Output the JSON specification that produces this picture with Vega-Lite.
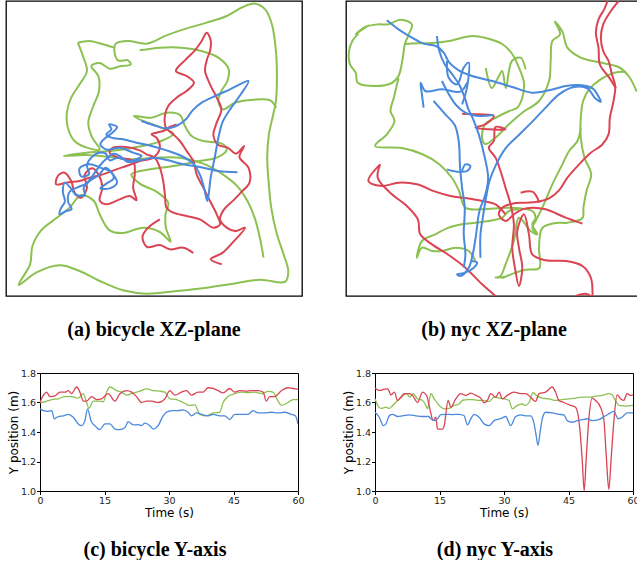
{
"$schema": "https://vega.github.io/schema/vega-lite/v6.json",
"padding": {"left": 5, "top": 0, "right": 0, "bottom": 0},
"background": "white",
"spacing": 27,
"config": {
 "view": {"stroke": "#000", "strokeWidth": 1},
 "axis": {"grid": false, "domainColor": "#000", "domainWidth": 1, "tickColor": "#000", "tickSize": 3.5, "tickWidth": 1, "labelFont": "DejaVu Sans", "labelFontSize": 9.5, "labelColor": "#222", "labelPadding": 1, "labelFlush": false, "titleFont": "DejaVu Sans", "titleFontSize": 12, "titleFontWeight": "normal", "titleColor": "#000", "titlePadding": 0},
 "axisX": {"titlePadding": 2},
 "title": {"font": "Liberation Serif", "fontSize": 20, "fontWeight": "bold", "color": "#000", "orient": "bottom", "offset": 22, "anchor": "middle"}
},
"datasets": {
"ty": [
{"scene":"bicycle","trace":"user B","t":0,"y":1.60},{"scene":"bicycle","trace":"user B","t":1.16,"y":1.605},{"scene":"bicycle","trace":"user B","t":2.71,"y":1.62},{"scene":"bicycle","trace":"user B","t":4.26,"y":1.625},{"scene":"bicycle","trace":"user B","t":5.81,"y":1.64},{"scene":"bicycle","trace":"user B","t":7.35,"y":1.64},{"scene":"bicycle","trace":"user B","t":8.9,"y":1.63},{"scene":"bicycle","trace":"user B","t":10.06,"y":1.66},{"scene":"bicycle","trace":"user B","t":10.84,"y":1.60},{"scene":"bicycle","trace":"user B","t":11.38,"y":1.56},{"scene":"bicycle","trace":"user B","t":12.39,"y":1.61},{"scene":"bicycle","trace":"user B","t":13.55,"y":1.61},{"scene":"bicycle","trace":"user B","t":14.71,"y":1.605},{"scene":"bicycle","trace":"user B","t":15.48,"y":1.67},{"scene":"bicycle","trace":"user B","t":16.26,"y":1.705},{"scene":"bicycle","trace":"user B","t":17.81,"y":1.68},{"scene":"bicycle","trace":"user B","t":18.97,"y":1.67},{"scene":"bicycle","trace":"user B","t":20.13,"y":1.65},{"scene":"bicycle","trace":"user B","t":21.68,"y":1.664},{"scene":"bicycle","trace":"user B","t":23.23,"y":1.677},{"scene":"bicycle","trace":"user B","t":24.77,"y":1.693},{"scene":"bicycle","trace":"user B","t":26.32,"y":1.68},{"scene":"bicycle","trace":"user B","t":27.87,"y":1.677},{"scene":"bicycle","trace":"user B","t":29.03,"y":1.67},{"scene":"bicycle","trace":"user B","t":30.19,"y":1.625},{"scene":"bicycle","trace":"user B","t":31.74,"y":1.62},{"scene":"bicycle","trace":"user B","t":33.29,"y":1.60},{"scene":"bicycle","trace":"user B","t":34.84,"y":1.58},{"scene":"bicycle","trace":"user B","t":36.0,"y":1.584},{"scene":"bicycle","trace":"user B","t":37.16,"y":1.52},{"scene":"bicycle","trace":"user B","t":38.71,"y":1.51},{"scene":"bicycle","trace":"user B","t":40.26,"y":1.53},{"scene":"bicycle","trace":"user B","t":41.81,"y":1.534},{"scene":"bicycle","trace":"user B","t":42.58,"y":1.60},{"scene":"bicycle","trace":"user B","t":43.74,"y":1.64},{"scene":"bicycle","trace":"user B","t":45.29,"y":1.66},{"scene":"bicycle","trace":"user B","t":46.84,"y":1.67},{"scene":"bicycle","trace":"user B","t":48.39,"y":1.666},{"scene":"bicycle","trace":"user B","t":49.94,"y":1.67},{"scene":"bicycle","trace":"user B","t":51.48,"y":1.66},{"scene":"bicycle","trace":"user B","t":53.03,"y":1.675},{"scene":"bicycle","trace":"user B","t":54.19,"y":1.67},{"scene":"bicycle","trace":"user B","t":55.36,"y":1.61},{"scene":"bicycle","trace":"user B","t":56.13,"y":1.58},{"scene":"bicycle","trace":"user B","t":57.68,"y":1.60},{"scene":"bicycle","trace":"user B","t":58.84,"y":1.62},{"scene":"bicycle","trace":"user B","t":60,"y":1.62},
{"scene":"bicycle","trace":"user A","t":0,"y":1.60},{"scene":"bicycle","trace":"user A","t":0.77,"y":1.648},{"scene":"bicycle","trace":"user A","t":1.55,"y":1.67},{"scene":"bicycle","trace":"user A","t":2.32,"y":1.64},{"scene":"bicycle","trace":"user A","t":3.48,"y":1.645},{"scene":"bicycle","trace":"user A","t":4.64,"y":1.67},{"scene":"bicycle","trace":"user A","t":5.81,"y":1.67},{"scene":"bicycle","trace":"user A","t":6.58,"y":1.68},{"scene":"bicycle","trace":"user A","t":7.35,"y":1.66},{"scene":"bicycle","trace":"user A","t":8.52,"y":1.705},{"scene":"bicycle","trace":"user A","t":9.29,"y":1.67},{"scene":"bicycle","trace":"user A","t":10.06,"y":1.61},{"scene":"bicycle","trace":"user A","t":10.84,"y":1.61},{"scene":"bicycle","trace":"user A","t":12.0,"y":1.64},{"scene":"bicycle","trace":"user A","t":13.16,"y":1.62},{"scene":"bicycle","trace":"user A","t":14.32,"y":1.625},{"scene":"bicycle","trace":"user A","t":15.87,"y":1.66},{"scene":"bicycle","trace":"user A","t":17.42,"y":1.61},{"scene":"bicycle","trace":"user A","t":18.58,"y":1.66},{"scene":"bicycle","trace":"user A","t":20.13,"y":1.68},{"scene":"bicycle","trace":"user A","t":21.29,"y":1.67},{"scene":"bicycle","trace":"user A","t":22.45,"y":1.64},{"scene":"bicycle","trace":"user A","t":23.61,"y":1.60},{"scene":"bicycle","trace":"user A","t":24.77,"y":1.61},{"scene":"bicycle","trace":"user A","t":25.94,"y":1.61},{"scene":"bicycle","trace":"user A","t":27.48,"y":1.60},{"scene":"bicycle","trace":"user A","t":29.03,"y":1.625},{"scene":"bicycle","trace":"user A","t":30.19,"y":1.68},{"scene":"bicycle","trace":"user A","t":31.35,"y":1.65},{"scene":"bicycle","trace":"user A","t":32.9,"y":1.67},{"scene":"bicycle","trace":"user A","t":34.06,"y":1.68},{"scene":"bicycle","trace":"user A","t":35.23,"y":1.65},{"scene":"bicycle","trace":"user A","t":36.77,"y":1.67},{"scene":"bicycle","trace":"user A","t":37.94,"y":1.67},{"scene":"bicycle","trace":"user A","t":39.1,"y":1.70},{"scene":"bicycle","trace":"user A","t":40.26,"y":1.695},{"scene":"bicycle","trace":"user A","t":41.42,"y":1.68},{"scene":"bicycle","trace":"user A","t":42.58,"y":1.665},{"scene":"bicycle","trace":"user A","t":44.13,"y":1.695},{"scene":"bicycle","trace":"user A","t":45.29,"y":1.67},{"scene":"bicycle","trace":"user A","t":46.45,"y":1.68},{"scene":"bicycle","trace":"user A","t":48.0,"y":1.677},{"scene":"bicycle","trace":"user A","t":49.16,"y":1.68},{"scene":"bicycle","trace":"user A","t":50.71,"y":1.68},{"scene":"bicycle","trace":"user A","t":51.87,"y":1.67},{"scene":"bicycle","trace":"user A","t":52.64,"y":1.61},{"scene":"bicycle","trace":"user A","t":53.42,"y":1.64},{"scene":"bicycle","trace":"user A","t":54.58,"y":1.64},{"scene":"bicycle","trace":"user A","t":56.13,"y":1.68},{"scene":"bicycle","trace":"user A","t":57.68,"y":1.70},{"scene":"bicycle","trace":"user A","t":58.84,"y":1.695},{"scene":"bicycle","trace":"user A","t":60,"y":1.69},
{"scene":"bicycle","trace":"user C","t":0,"y":1.557},{"scene":"bicycle","trace":"user C","t":0.77,"y":1.545},{"scene":"bicycle","trace":"user C","t":1.94,"y":1.54},{"scene":"bicycle","trace":"user C","t":2.71,"y":1.545},{"scene":"bicycle","trace":"user C","t":3.33,"y":1.49},{"scene":"bicycle","trace":"user C","t":4.26,"y":1.505},{"scene":"bicycle","trace":"user C","t":5.42,"y":1.51},{"scene":"bicycle","trace":"user C","t":6.58,"y":1.52},{"scene":"bicycle","trace":"user C","t":7.74,"y":1.50},{"scene":"bicycle","trace":"user C","t":8.9,"y":1.455},{"scene":"bicycle","trace":"user C","t":9.68,"y":1.443},{"scene":"bicycle","trace":"user C","t":10.45,"y":1.477},{"scene":"bicycle","trace":"user C","t":11.07,"y":1.557},{"scene":"bicycle","trace":"user C","t":11.84,"y":1.477},{"scene":"bicycle","trace":"user C","t":12.77,"y":1.443},{"scene":"bicycle","trace":"user C","t":13.94,"y":1.416},{"scene":"bicycle","trace":"user C","t":15.1,"y":1.455},{"scene":"bicycle","trace":"user C","t":16.26,"y":1.455},{"scene":"bicycle","trace":"user C","t":17.42,"y":1.42},{"scene":"bicycle","trace":"user C","t":18.58,"y":1.416},{"scene":"bicycle","trace":"user C","t":19.74,"y":1.43},{"scene":"bicycle","trace":"user C","t":20.52,"y":1.47},{"scene":"bicycle","trace":"user C","t":21.68,"y":1.448},{"scene":"bicycle","trace":"user C","t":22.84,"y":1.45},{"scene":"bicycle","trace":"user C","t":23.61,"y":1.443},{"scene":"bicycle","trace":"user C","t":24.39,"y":1.46},{"scene":"bicycle","trace":"user C","t":25.55,"y":1.443},{"scene":"bicycle","trace":"user C","t":26.32,"y":1.42},{"scene":"bicycle","trace":"user C","t":27.48,"y":1.443},{"scene":"bicycle","trace":"user C","t":28.64,"y":1.51},{"scene":"bicycle","trace":"user C","t":29.81,"y":1.54},{"scene":"bicycle","trace":"user C","t":30.97,"y":1.545},{"scene":"bicycle","trace":"user C","t":32.13,"y":1.545},{"scene":"bicycle","trace":"user C","t":33.29,"y":1.55},{"scene":"bicycle","trace":"user C","t":34.45,"y":1.534},{"scene":"bicycle","trace":"user C","t":35.23,"y":1.51},{"scene":"bicycle","trace":"user C","t":36.39,"y":1.53},{"scene":"bicycle","trace":"user C","t":37.55,"y":1.52},{"scene":"bicycle","trace":"user C","t":39.1,"y":1.51},{"scene":"bicycle","trace":"user C","t":40.26,"y":1.52},{"scene":"bicycle","trace":"user C","t":41.81,"y":1.51},{"scene":"bicycle","trace":"user C","t":42.97,"y":1.51},{"scene":"bicycle","trace":"user C","t":44.13,"y":1.484},{"scene":"bicycle","trace":"user C","t":45.29,"y":1.52},{"scene":"bicycle","trace":"user C","t":46.84,"y":1.52},{"scene":"bicycle","trace":"user C","t":48.39,"y":1.52},{"scene":"bicycle","trace":"user C","t":49.55,"y":1.545},{"scene":"bicycle","trace":"user C","t":50.71,"y":1.53},{"scene":"bicycle","trace":"user C","t":52.26,"y":1.53},{"scene":"bicycle","trace":"user C","t":53.81,"y":1.534},{"scene":"bicycle","trace":"user C","t":55.36,"y":1.53},{"scene":"bicycle","trace":"user C","t":56.9,"y":1.534},{"scene":"bicycle","trace":"user C","t":58.45,"y":1.52},{"scene":"bicycle","trace":"user C","t":59.38,"y":1.51},{"scene":"bicycle","trace":"user C","t":60,"y":1.455},
{"scene":"nyc","trace":"user B","t":0,"y":1.625},{"scene":"nyc","trace":"user B","t":0.62,"y":1.58},{"scene":"nyc","trace":"user B","t":1.39,"y":1.56},{"scene":"nyc","trace":"user B","t":2.55,"y":1.568},{"scene":"nyc","trace":"user B","t":3.33,"y":1.56},{"scene":"nyc","trace":"user B","t":4.1,"y":1.58},{"scene":"nyc","trace":"user B","t":5.26,"y":1.614},{"scene":"nyc","trace":"user B","t":6.42,"y":1.643},{"scene":"nyc","trace":"user B","t":7.35,"y":1.66},{"scene":"nyc","trace":"user B","t":8.12,"y":1.636},{"scene":"nyc","trace":"user B","t":8.89,"y":1.66},{"scene":"nyc","trace":"user B","t":9.9,"y":1.625},{"scene":"nyc","trace":"user B","t":11.06,"y":1.614},{"scene":"nyc","trace":"user B","t":11.83,"y":1.58},{"scene":"nyc","trace":"user B","t":12.22,"y":1.557},{"scene":"nyc","trace":"user B","t":12.99,"y":1.66},{"scene":"nyc","trace":"user B","t":13.77,"y":1.625},{"scene":"nyc","trace":"user B","t":14.93,"y":1.58},{"scene":"nyc","trace":"user B","t":16.09,"y":1.557},{"scene":"nyc","trace":"user B","t":17.25,"y":1.56},{"scene":"nyc","trace":"user B","t":18.41,"y":1.58},{"scene":"nyc","trace":"user B","t":19.57,"y":1.59},{"scene":"nyc","trace":"user B","t":20.34,"y":1.614},{"scene":"nyc","trace":"user B","t":21.5,"y":1.62},{"scene":"nyc","trace":"user B","t":22.66,"y":1.62},{"scene":"nyc","trace":"user B","t":23.82,"y":1.614},{"scene":"nyc","trace":"user B","t":24.98,"y":1.614},{"scene":"nyc","trace":"user B","t":26.53,"y":1.607},{"scene":"nyc","trace":"user B","t":27.69,"y":1.636},{"scene":"nyc","trace":"user B","t":28.85,"y":1.63},{"scene":"nyc","trace":"user B","t":30.01,"y":1.625},{"scene":"nyc","trace":"user B","t":31.17,"y":1.614},{"scene":"nyc","trace":"user B","t":31.94,"y":1.557},{"scene":"nyc","trace":"user B","t":33.1,"y":1.58},{"scene":"nyc","trace":"user B","t":34.26,"y":1.59},{"scene":"nyc","trace":"user B","t":35.03,"y":1.58},{"scene":"nyc","trace":"user B","t":35.81,"y":1.60},{"scene":"nyc","trace":"user B","t":36.74,"y":1.666},{"scene":"nyc","trace":"user B","t":37.74,"y":1.643},{"scene":"nyc","trace":"user B","t":38.9,"y":1.63},{"scene":"nyc","trace":"user B","t":40.45,"y":1.625},{"scene":"nyc","trace":"user B","t":42.0,"y":1.614},{"scene":"nyc","trace":"user B","t":43.54,"y":1.62},{"scene":"nyc","trace":"user B","t":45.09,"y":1.625},{"scene":"nyc","trace":"user B","t":46.64,"y":1.63},{"scene":"nyc","trace":"user B","t":48.18,"y":1.636},{"scene":"nyc","trace":"user B","t":49.73,"y":1.636},{"scene":"nyc","trace":"user B","t":51.28,"y":1.643},{"scene":"nyc","trace":"user B","t":52.82,"y":1.648},{"scene":"nyc","trace":"user B","t":54.37,"y":1.66},{"scene":"nyc","trace":"user B","t":55.14,"y":1.652},{"scene":"nyc","trace":"user B","t":55.92,"y":1.614},{"scene":"nyc","trace":"user B","t":56.69,"y":1.58},{"scene":"nyc","trace":"user B","t":58.24,"y":1.575},{"scene":"nyc","trace":"user B","t":60,"y":1.58},
{"scene":"nyc","trace":"user A","t":0,"y":1.698},{"scene":"nyc","trace":"user A","t":1.0,"y":1.682},{"scene":"nyc","trace":"user A","t":2.17,"y":1.69},{"scene":"nyc","trace":"user A","t":2.94,"y":1.693},{"scene":"nyc","trace":"user A","t":3.71,"y":1.652},{"scene":"nyc","trace":"user A","t":4.49,"y":1.67},{"scene":"nyc","trace":"user A","t":5.26,"y":1.614},{"scene":"nyc","trace":"user A","t":6.03,"y":1.636},{"scene":"nyc","trace":"user A","t":6.81,"y":1.66},{"scene":"nyc","trace":"user A","t":7.97,"y":1.66},{"scene":"nyc","trace":"user A","t":8.74,"y":1.648},{"scene":"nyc","trace":"user A","t":9.9,"y":1.60},{"scene":"nyc","trace":"user A","t":11.06,"y":1.67},{"scene":"nyc","trace":"user A","t":11.99,"y":1.648},{"scene":"nyc","trace":"user A","t":12.76,"y":1.557},{"scene":"nyc","trace":"user A","t":13.53,"y":1.477},{"scene":"nyc","trace":"user A","t":14.15,"y":1.50},{"scene":"nyc","trace":"user A","t":14.54,"y":1.42},{"scene":"nyc","trace":"user A","t":15.7,"y":1.42},{"scene":"nyc","trace":"user A","t":16.09,"y":1.443},{"scene":"nyc","trace":"user A","t":17.01,"y":1.614},{"scene":"nyc","trace":"user A","t":17.63,"y":1.568},{"scene":"nyc","trace":"user A","t":18.79,"y":1.625},{"scene":"nyc","trace":"user A","t":19.95,"y":1.66},{"scene":"nyc","trace":"user A","t":21.11,"y":1.648},{"scene":"nyc","trace":"user A","t":22.27,"y":1.664},{"scene":"nyc","trace":"user A","t":23.43,"y":1.648},{"scene":"nyc","trace":"user A","t":24.59,"y":1.63},{"scene":"nyc","trace":"user A","t":25.37,"y":1.598},{"scene":"nyc","trace":"user A","t":26.14,"y":1.614},{"scene":"nyc","trace":"user A","t":26.91,"y":1.66},{"scene":"nyc","trace":"user A","t":28.07,"y":1.636},{"scene":"nyc","trace":"user A","t":28.85,"y":1.67},{"scene":"nyc","trace":"user A","t":29.62,"y":1.625},{"scene":"nyc","trace":"user A","t":30.78,"y":1.648},{"scene":"nyc","trace":"user A","t":32.33,"y":1.67},{"scene":"nyc","trace":"user A","t":33.87,"y":1.66},{"scene":"nyc","trace":"user A","t":35.03,"y":1.66},{"scene":"nyc","trace":"user A","t":36.19,"y":1.636},{"scene":"nyc","trace":"user A","t":37.35,"y":1.607},{"scene":"nyc","trace":"user A","t":38.13,"y":1.66},{"scene":"nyc","trace":"user A","t":39.67,"y":1.67},{"scene":"nyc","trace":"user A","t":41.22,"y":1.705},{"scene":"nyc","trace":"user A","t":42.0,"y":1.67},{"scene":"nyc","trace":"user A","t":42.77,"y":1.614},{"scene":"nyc","trace":"user A","t":43.93,"y":1.60},{"scene":"nyc","trace":"user A","t":45.48,"y":1.58},{"scene":"nyc","trace":"user A","t":46.64,"y":1.568},{"scene":"nyc","trace":"user A","t":47.56,"y":1.443},{"scene":"nyc","trace":"user A","t":48.18,"y":1.216},{"scene":"nyc","trace":"user A","t":48.65,"y":1.0},{"scene":"nyc","trace":"user A","t":49.11,"y":1.216},{"scene":"nyc","trace":"user A","t":49.73,"y":1.489},{"scene":"nyc","trace":"user A","t":50.5,"y":1.63},{"scene":"nyc","trace":"user A","t":51.28,"y":1.614},{"scene":"nyc","trace":"user A","t":52.44,"y":1.568},{"scene":"nyc","trace":"user A","t":53.21,"y":1.489},{"scene":"nyc","trace":"user A","t":53.83,"y":1.216},{"scene":"nyc","trace":"user A","t":54.37,"y":1.011},{"scene":"nyc","trace":"user A","t":54.91,"y":1.216},{"scene":"nyc","trace":"user A","t":55.53,"y":1.466},{"scene":"nyc","trace":"user A","t":56.3,"y":1.652},{"scene":"nyc","trace":"user A","t":57.08,"y":1.625},{"scene":"nyc","trace":"user A","t":57.85,"y":1.614},{"scene":"nyc","trace":"user A","t":58.62,"y":1.66},{"scene":"nyc","trace":"user A","t":59.4,"y":1.648},{"scene":"nyc","trace":"user A","t":60,"y":1.652},
{"scene":"nyc","trace":"user C","t":0,"y":1.534},{"scene":"nyc","trace":"user C","t":1.0,"y":1.50},{"scene":"nyc","trace":"user C","t":1.93,"y":1.443},{"scene":"nyc","trace":"user C","t":2.55,"y":1.455},{"scene":"nyc","trace":"user C","t":3.33,"y":1.511},{"scene":"nyc","trace":"user C","t":4.1,"y":1.52},{"scene":"nyc","trace":"user C","t":5.26,"y":1.505},{"scene":"nyc","trace":"user C","t":6.42,"y":1.51},{"scene":"nyc","trace":"user C","t":7.97,"y":1.516},{"scene":"nyc","trace":"user C","t":9.51,"y":1.51},{"scene":"nyc","trace":"user C","t":11.06,"y":1.505},{"scene":"nyc","trace":"user C","t":12.45,"y":1.505},{"scene":"nyc","trace":"user C","t":12.99,"y":1.49},{"scene":"nyc","trace":"user C","t":13.77,"y":1.477},{"scene":"nyc","trace":"user C","t":14.54,"y":1.489},{"scene":"nyc","trace":"user C","t":15.31,"y":1.518},{"scene":"nyc","trace":"user C","t":16.47,"y":1.52},{"scene":"nyc","trace":"user C","t":18.02,"y":1.518},{"scene":"nyc","trace":"user C","t":19.57,"y":1.52},{"scene":"nyc","trace":"user C","t":20.73,"y":1.51},{"scene":"nyc","trace":"user C","t":21.5,"y":1.448},{"scene":"nyc","trace":"user C","t":22.27,"y":1.489},{"scene":"nyc","trace":"user C","t":23.05,"y":1.52},{"scene":"nyc","trace":"user C","t":24.21,"y":1.50},{"scene":"nyc","trace":"user C","t":25.37,"y":1.455},{"scene":"nyc","trace":"user C","t":26.53,"y":1.443},{"scene":"nyc","trace":"user C","t":27.69,"y":1.477},{"scene":"nyc","trace":"user C","t":29.23,"y":1.49},{"scene":"nyc","trace":"user C","t":30.39,"y":1.505},{"scene":"nyc","trace":"user C","t":31.55,"y":1.443},{"scene":"nyc","trace":"user C","t":32.71,"y":1.505},{"scene":"nyc","trace":"user C","t":33.87,"y":1.516},{"scene":"nyc","trace":"user C","t":35.03,"y":1.51},{"scene":"nyc","trace":"user C","t":36.19,"y":1.51},{"scene":"nyc","trace":"user C","t":36.97,"y":1.46},{"scene":"nyc","trace":"user C","t":37.4,"y":1.39},{"scene":"nyc","trace":"user C","t":37.9,"y":1.31},{"scene":"nyc","trace":"user C","t":38.4,"y":1.40},{"scene":"nyc","trace":"user C","t":38.9,"y":1.489},{"scene":"nyc","trace":"user C","t":39.67,"y":1.534},{"scene":"nyc","trace":"user C","t":41.22,"y":1.53},{"scene":"nyc","trace":"user C","t":42.77,"y":1.52},{"scene":"nyc","trace":"user C","t":43.93,"y":1.516},{"scene":"nyc","trace":"user C","t":44.7,"y":1.477},{"scene":"nyc","trace":"user C","t":45.86,"y":1.466},{"scene":"nyc","trace":"user C","t":47.02,"y":1.477},{"scene":"nyc","trace":"user C","t":48.18,"y":1.484},{"scene":"nyc","trace":"user C","t":49.34,"y":1.49},{"scene":"nyc","trace":"user C","t":50.5,"y":1.477},{"scene":"nyc","trace":"user C","t":52.05,"y":1.484},{"scene":"nyc","trace":"user C","t":53.6,"y":1.51},{"scene":"nyc","trace":"user C","t":54.76,"y":1.53},{"scene":"nyc","trace":"user C","t":55.53,"y":1.54},{"scene":"nyc","trace":"user C","t":56.54,"y":1.49},{"scene":"nyc","trace":"user C","t":57.46,"y":1.50},{"scene":"nyc","trace":"user C","t":58.62,"y":1.53},{"scene":"nyc","trace":"user C","t":60,"y":1.53}
],
"xz": [
{"scene":"bicycle","trace":"user B","seg":"g1","i":0,"x":235,"z":125},{"scene":"bicycle","trace":"user B","seg":"g1","i":1,"x":250,"z":165},{"scene":"bicycle","trace":"user B","seg":"g1","i":2,"x":262,"z":210},{"scene":"bicycle","trace":"user B","seg":"g1","i":3,"x":240,"z":250},{"scene":"bicycle","trace":"user B","seg":"g1","i":4,"x":215,"z":290},{"scene":"bicycle","trace":"user B","seg":"g1","i":5,"x":202,"z":335},{"scene":"bicycle","trace":"user B","seg":"g1","i":6,"x":205,"z":380},{"scene":"bicycle","trace":"user B","seg":"g1","i":7,"x":225,"z":420},{"scene":"bicycle","trace":"user B","seg":"g1","i":8,"x":262,"z":440},{"scene":"bicycle","trace":"user B","seg":"g1","i":9,"x":300,"z":445},{"scene":"bicycle","trace":"user B","seg":"g1","i":10,"x":278,"z":410},{"scene":"bicycle","trace":"user B","seg":"g1","i":11,"x":266,"z":365},{"scene":"bicycle","trace":"user B","seg":"g1","i":12,"x":280,"z":318},{"scene":"bicycle","trace":"user B","seg":"g1","i":13,"x":298,"z":270},{"scene":"bicycle","trace":"user B","seg":"g1","i":14,"x":296,"z":225},{"scene":"bicycle","trace":"user B","seg":"g1","i":15,"x":275,"z":195},{"scene":"bicycle","trace":"user B","seg":"g1","i":16,"x":300,"z":186},{"scene":"bicycle","trace":"user B","seg":"g1","i":17,"x":330,"z":203},{"scene":"bicycle","trace":"user B","seg":"g1","i":18,"x":360,"z":196},{"scene":"bicycle","trace":"user B","seg":"g1","i":19,"x":393,"z":190},{"scene":"bicycle","trace":"user B","seg":"g1","i":20,"x":385,"z":178},{"scene":"bicycle","trace":"user B","seg":"g1","i":21,"x":355,"z":178},{"scene":"bicycle","trace":"user B","seg":"g1","i":22,"x":344,"z":150},{"scene":"bicycle","trace":"user B","seg":"g1","i":23,"x":348,"z":128},{"scene":"bicycle","trace":"user B","seg":"g1","i":24,"x":385,"z":120},{"scene":"bicycle","trace":"user B","seg":"g1","i":25,"x":440,"z":128},{"scene":"bicycle","trace":"user B","seg":"g1","i":26,"x":500,"z":103},{"scene":"bicycle","trace":"user B","seg":"g1","i":27,"x":560,"z":82},{"scene":"bicycle","trace":"user B","seg":"g1","i":28,"x":620,"z":65},{"scene":"bicycle","trace":"user B","seg":"g1","i":29,"x":680,"z":45},{"scene":"bicycle","trace":"user B","seg":"g1","i":30,"x":728,"z":18},{"scene":"bicycle","trace":"user B","seg":"g1","i":31,"x":765,"z":8},{"scene":"bicycle","trace":"user B","seg":"g1","i":32,"x":795,"z":25},{"scene":"bicycle","trace":"user B","seg":"g1","i":33,"x":815,"z":70},{"scene":"bicycle","trace":"user B","seg":"g1","i":34,"x":827,"z":150},{"scene":"bicycle","trace":"user B","seg":"g1","i":35,"x":830,"z":230},{"scene":"bicycle","trace":"user B","seg":"g1","i":36,"x":827,"z":300},{"scene":"bicycle","trace":"user B","seg":"g1","i":37,"x":818,"z":345},{"scene":"bicycle","trace":"user B","seg":"g1","i":38,"x":806,"z":400},{"scene":"bicycle","trace":"user B","seg":"g1","i":39,"x":801,"z":470},{"scene":"bicycle","trace":"user B","seg":"g1","i":40,"x":805,"z":540},{"scene":"bicycle","trace":"user B","seg":"g1","i":41,"x":813,"z":620},{"scene":"bicycle","trace":"user B","seg":"g1","i":42,"x":830,"z":700},{"scene":"bicycle","trace":"user B","seg":"g1","i":43,"x":850,"z":760},{"scene":"bicycle","trace":"user B","seg":"g1","i":44,"x":864,"z":810},{"scene":"bicycle","trace":"user B","seg":"g1","i":45,"x":855,"z":842},{"scene":"bicycle","trace":"user B","seg":"g1","i":46,"x":780,"z":836},{"scene":"bicycle","trace":"user B","seg":"g1","i":47,"x":700,"z":848},{"scene":"bicycle","trace":"user B","seg":"g1","i":48,"x":620,"z":860},{"scene":"bicycle","trace":"user B","seg":"g1","i":49,"x":530,"z":870},{"scene":"bicycle","trace":"user B","seg":"g1","i":50,"x":440,"z":878},{"scene":"bicycle","trace":"user B","seg":"g1","i":51,"x":370,"z":868},{"scene":"bicycle","trace":"user B","seg":"g1","i":52,"x":300,"z":840},{"scene":"bicycle","trace":"user B","seg":"g1","i":53,"x":240,"z":810},{"scene":"bicycle","trace":"user B","seg":"g1","i":54,"x":180,"z":793},{"scene":"bicycle","trace":"user B","seg":"g1","i":55,"x":110,"z":815},{"scene":"bicycle","trace":"user B","seg":"g1","i":56,"x":58,"z":852},{"scene":"bicycle","trace":"user B","seg":"g1","i":57,"x":92,"z":790},{"scene":"bicycle","trace":"user B","seg":"g1","i":58,"x":99,"z":735},{"scene":"bicycle","trace":"user B","seg":"g1","i":59,"x":125,"z":688},{"scene":"bicycle","trace":"user B","seg":"g1","i":60,"x":170,"z":652},{"scene":"bicycle","trace":"user B","seg":"g1","i":61,"x":210,"z":620},{"scene":"bicycle","trace":"user B","seg":"g1","i":62,"x":245,"z":582},{"scene":"bicycle","trace":"user B","seg":"g1","i":63,"x":283,"z":600},{"scene":"bicycle","trace":"user B","seg":"g1","i":64,"x":300,"z":640},{"scene":"bicycle","trace":"user B","seg":"g1","i":65,"x":330,"z":688},{"scene":"bicycle","trace":"user B","seg":"g1","i":66,"x":370,"z":696},{"scene":"bicycle","trace":"user B","seg":"g1","i":67,"x":430,"z":680},{"scene":"bicycle","trace":"user B","seg":"g1","i":68,"x":480,"z":693},{"scene":"bicycle","trace":"user B","seg":"g1","i":69,"x":512,"z":722},{"scene":"bicycle","trace":"user B","seg":"g1","i":70,"x":498,"z":680},{"scene":"bicycle","trace":"user B","seg":"g1","i":71,"x":497,"z":640},{"scene":"bicycle","trace":"user B","seg":"g1","i":72,"x":505,"z":605},{"scene":"bicycle","trace":"user B","seg":"g1","i":73,"x":470,"z":572},{"scene":"bicycle","trace":"user B","seg":"g1","i":74,"x":420,"z":548},{"scene":"bicycle","trace":"user B","seg":"g1","i":75,"x":395,"z":520},{"scene":"bicycle","trace":"user B","seg":"g1","i":76,"x":450,"z":505},{"scene":"bicycle","trace":"user B","seg":"g1","i":77,"x":520,"z":495},{"scene":"bicycle","trace":"user B","seg":"g1","i":78,"x":600,"z":480},{"scene":"bicycle","trace":"user B","seg":"g1","i":79,"x":650,"z":470},{"scene":"bicycle","trace":"user B","seg":"g1","i":80,"x":680,"z":445},{"scene":"bicycle","trace":"user B","seg":"g1","i":81,"x":665,"z":428},{"scene":"bicycle","trace":"user B","seg":"g1","i":82,"x":610,"z":420},{"scene":"bicycle","trace":"user B","seg":"g1","i":83,"x":575,"z":405},{"scene":"bicycle","trace":"user B","seg":"g1","i":84,"x":555,"z":375},{"scene":"bicycle","trace":"user B","seg":"g1","i":85,"x":540,"z":342},{"scene":"bicycle","trace":"user B","seg":"g1","i":86,"x":500,"z":335},{"scene":"bicycle","trace":"user B","seg":"g1","i":87,"x":455,"z":350},{"scene":"bicycle","trace":"user B","seg":"g1","i":88,"x":402,"z":345},{"scene":"bicycle","trace":"user B","seg":"g1","i":89,"x":430,"z":360},{"scene":"bicycle","trace":"user B","seg":"g1","i":90,"x":480,"z":378},{"scene":"bicycle","trace":"user B","seg":"g1","i":91,"x":520,"z":398},{"scene":"bicycle","trace":"user B","seg":"g1","i":92,"x":470,"z":425},{"scene":"bicycle","trace":"user B","seg":"g1","i":93,"x":400,"z":440},{"scene":"bicycle","trace":"user B","seg":"g1","i":94,"x":330,"z":450},{"scene":"bicycle","trace":"user B","seg":"g1","i":95,"x":260,"z":455},{"scene":"bicycle","trace":"user B","seg":"g1","i":96,"x":192,"z":465},{"scene":"bicycle","trace":"user B","seg":"g1","i":97,"x":260,"z":462},{"scene":"bicycle","trace":"user B","seg":"g1","i":98,"x":330,"z":468},{"scene":"bicycle","trace":"user B","seg":"g1","i":99,"x":400,"z":475},{"scene":"bicycle","trace":"user B","seg":"g1","i":100,"x":470,"z":470},{"scene":"bicycle","trace":"user B","seg":"g1","i":101,"x":540,"z":470},{"scene":"bicycle","trace":"user B","seg":"g1","i":102,"x":610,"z":488},{"scene":"bicycle","trace":"user B","seg":"g1","i":103,"x":668,"z":520},{"scene":"bicycle","trace":"user B","seg":"g1","i":104,"x":712,"z":556},{"scene":"bicycle","trace":"user B","seg":"g1","i":105,"x":742,"z":600},{"scene":"bicycle","trace":"user B","seg":"g1","i":106,"x":765,"z":655},{"scene":"bicycle","trace":"user B","seg":"g1","i":107,"x":780,"z":715},{"scene":"bicycle","trace":"user B","seg":"g1","i":108,"x":790,"z":770},
{"scene":"bicycle","trace":"user B","seg":"g2","i":0,"x":235,"z":125},{"scene":"bicycle","trace":"user B","seg":"g2","i":1,"x":268,"z":120},{"scene":"bicycle","trace":"user B","seg":"g2","i":2,"x":305,"z":128},{"scene":"bicycle","trace":"user B","seg":"g2","i":3,"x":344,"z":140},
{"scene":"bicycle","trace":"user B","seg":"g3","i":0,"x":420,"z":148},{"scene":"bicycle","trace":"user B","seg":"g3","i":1,"x":480,"z":140},{"scene":"bicycle","trace":"user B","seg":"g3","i":2,"x":545,"z":140},{"scene":"bicycle","trace":"user B","seg":"g3","i":3,"x":605,"z":150},{"scene":"bicycle","trace":"user B","seg":"g3","i":4,"x":655,"z":170},{"scene":"bicycle","trace":"user B","seg":"g3","i":5,"x":686,"z":205},{"scene":"bicycle","trace":"user B","seg":"g3","i":6,"x":682,"z":240},{"scene":"bicycle","trace":"user B","seg":"g3","i":7,"x":664,"z":270},{"scene":"bicycle","trace":"user B","seg":"g3","i":8,"x":655,"z":300},{"scene":"bicycle","trace":"user B","seg":"g3","i":9,"x":668,"z":325},{"scene":"bicycle","trace":"user B","seg":"g3","i":10,"x":705,"z":305},{"scene":"bicycle","trace":"user B","seg":"g3","i":11,"x":760,"z":296},{"scene":"bicycle","trace":"user B","seg":"g3","i":12,"x":810,"z":298},{"scene":"bicycle","trace":"user B","seg":"g3","i":13,"x":828,"z":320},
{"scene":"bicycle","trace":"user A","seg":"r1","i":0,"x":665,"z":790},{"scene":"bicycle","trace":"user A","seg":"r1","i":1,"x":632,"z":775},{"scene":"bicycle","trace":"user A","seg":"r1","i":2,"x":668,"z":755},{"scene":"bicycle","trace":"user A","seg":"r1","i":3,"x":700,"z":722},{"scene":"bicycle","trace":"user A","seg":"r1","i":4,"x":735,"z":680},{"scene":"bicycle","trace":"user A","seg":"r1","i":5,"x":705,"z":690},{"scene":"bicycle","trace":"user A","seg":"r1","i":6,"x":680,"z":680},{"scene":"bicycle","trace":"user A","seg":"r1","i":7,"x":660,"z":655},{"scene":"bicycle","trace":"user A","seg":"r1","i":8,"x":672,"z":625},{"scene":"bicycle","trace":"user A","seg":"r1","i":9,"x":700,"z":598},{"scene":"bicycle","trace":"user A","seg":"r1","i":10,"x":725,"z":572},{"scene":"bicycle","trace":"user A","seg":"r1","i":11,"x":748,"z":545},{"scene":"bicycle","trace":"user A","seg":"r1","i":12,"x":745,"z":500},{"scene":"bicycle","trace":"user A","seg":"r1","i":13,"x":718,"z":468},{"scene":"bicycle","trace":"user A","seg":"r1","i":14,"x":732,"z":435},{"scene":"bicycle","trace":"user A","seg":"r1","i":15,"x":708,"z":458},{"scene":"bicycle","trace":"user A","seg":"r1","i":16,"x":683,"z":440},{"scene":"bicycle","trace":"user A","seg":"r1","i":17,"x":655,"z":432},{"scene":"bicycle","trace":"user A","seg":"r1","i":18,"x":640,"z":402},{"scene":"bicycle","trace":"user A","seg":"r1","i":19,"x":650,"z":365},{"scene":"bicycle","trace":"user A","seg":"r1","i":20,"x":664,"z":325},{"scene":"bicycle","trace":"user A","seg":"r1","i":21,"x":650,"z":290},{"scene":"bicycle","trace":"user A","seg":"r1","i":22,"x":630,"z":250},{"scene":"bicycle","trace":"user A","seg":"r1","i":23,"x":615,"z":208},{"scene":"bicycle","trace":"user A","seg":"r1","i":24,"x":622,"z":172},{"scene":"bicycle","trace":"user A","seg":"r1","i":25,"x":630,"z":150},{"scene":"bicycle","trace":"user A","seg":"r1","i":26,"x":632,"z":118},{"scene":"bicycle","trace":"user A","seg":"r1","i":27,"x":620,"z":95},{"scene":"bicycle","trace":"user A","seg":"r1","i":28,"x":605,"z":120},{"scene":"bicycle","trace":"user A","seg":"r1","i":29,"x":585,"z":148},{"scene":"bicycle","trace":"user A","seg":"r1","i":30,"x":555,"z":178},{"scene":"bicycle","trace":"user A","seg":"r1","i":31,"x":528,"z":210},{"scene":"bicycle","trace":"user A","seg":"r1","i":32,"x":560,"z":225},{"scene":"bicycle","trace":"user A","seg":"r1","i":33,"x":582,"z":245},{"scene":"bicycle","trace":"user A","seg":"r1","i":34,"x":560,"z":270},{"scene":"bicycle","trace":"user A","seg":"r1","i":35,"x":530,"z":290},{"scene":"bicycle","trace":"user A","seg":"r1","i":36,"x":505,"z":315},{"scene":"bicycle","trace":"user A","seg":"r1","i":37,"x":495,"z":345},{"scene":"bicycle","trace":"user A","seg":"r1","i":38,"x":498,"z":380},{"scene":"bicycle","trace":"user A","seg":"r1","i":39,"x":520,"z":400},{"scene":"bicycle","trace":"user A","seg":"r1","i":40,"x":540,"z":420},{"scene":"bicycle","trace":"user A","seg":"r1","i":41,"x":560,"z":450},{"scene":"bicycle","trace":"user A","seg":"r1","i":42,"x":580,"z":480},{"scene":"bicycle","trace":"user A","seg":"r1","i":43,"x":590,"z":520},{"scene":"bicycle","trace":"user A","seg":"r1","i":44,"x":610,"z":560},{"scene":"bicycle","trace":"user A","seg":"r1","i":45,"x":630,"z":600},{"scene":"bicycle","trace":"user A","seg":"r1","i":46,"x":650,"z":640},{"scene":"bicycle","trace":"user A","seg":"r1","i":47,"x":660,"z":670},{"scene":"bicycle","trace":"user A","seg":"r1","i":48,"x":640,"z":680},{"scene":"bicycle","trace":"user A","seg":"r1","i":49,"x":600,"z":655},{"scene":"bicycle","trace":"user A","seg":"r1","i":50,"x":560,"z":645},{"scene":"bicycle","trace":"user A","seg":"r1","i":51,"x":520,"z":635},{"scene":"bicycle","trace":"user A","seg":"r1","i":52,"x":500,"z":620},{"scene":"bicycle","trace":"user A","seg":"r1","i":53,"x":495,"z":580},{"scene":"bicycle","trace":"user A","seg":"r1","i":54,"x":490,"z":540},{"scene":"bicycle","trace":"user A","seg":"r1","i":55,"x":480,"z":500},{"scene":"bicycle","trace":"user A","seg":"r1","i":56,"x":465,"z":470},{"scene":"bicycle","trace":"user A","seg":"r1","i":57,"x":440,"z":460},{"scene":"bicycle","trace":"user A","seg":"r1","i":58,"x":420,"z":448},{"scene":"bicycle","trace":"user A","seg":"r1","i":59,"x":380,"z":438},{"scene":"bicycle","trace":"user A","seg":"r1","i":60,"x":340,"z":440},{"scene":"bicycle","trace":"user A","seg":"r1","i":61,"x":330,"z":455},{"scene":"bicycle","trace":"user A","seg":"r1","i":62,"x":355,"z":470},{"scene":"bicycle","trace":"user A","seg":"r1","i":63,"x":400,"z":480},{"scene":"bicycle","trace":"user A","seg":"r1","i":64,"x":405,"z":520},{"scene":"bicycle","trace":"user A","seg":"r1","i":65,"x":400,"z":560},{"scene":"bicycle","trace":"user A","seg":"r1","i":66,"x":410,"z":598},{"scene":"bicycle","trace":"user A","seg":"r1","i":67,"x":390,"z":585},{"scene":"bicycle","trace":"user A","seg":"r1","i":68,"x":360,"z":595},{"scene":"bicycle","trace":"user A","seg":"r1","i":69,"x":320,"z":610},{"scene":"bicycle","trace":"user A","seg":"r1","i":70,"x":300,"z":598},{"scene":"bicycle","trace":"user A","seg":"r1","i":71,"x":308,"z":560},{"scene":"bicycle","trace":"user A","seg":"r1","i":72,"x":296,"z":520},{"scene":"bicycle","trace":"user A","seg":"r1","i":73,"x":278,"z":502},{"scene":"bicycle","trace":"user A","seg":"r1","i":74,"x":255,"z":522},{"scene":"bicycle","trace":"user A","seg":"r1","i":75,"x":262,"z":560},{"scene":"bicycle","trace":"user A","seg":"r1","i":76,"x":245,"z":590},{"scene":"bicycle","trace":"user A","seg":"r1","i":77,"x":225,"z":575},{"scene":"bicycle","trace":"user A","seg":"r1","i":78,"x":215,"z":540},{"scene":"bicycle","trace":"user A","seg":"r1","i":79,"x":195,"z":515},{"scene":"bicycle","trace":"user A","seg":"r1","i":80,"x":175,"z":525},{"scene":"bicycle","trace":"user A","seg":"r1","i":81,"x":170,"z":550},{"scene":"bicycle","trace":"user A","seg":"r1","i":82,"x":200,"z":545},{"scene":"bicycle","trace":"user A","seg":"r1","i":83,"x":240,"z":540},{"scene":"bicycle","trace":"user A","seg":"r1","i":84,"x":270,"z":530},{"scene":"bicycle","trace":"user A","seg":"r1","i":85,"x":310,"z":520},{"scene":"bicycle","trace":"user A","seg":"r1","i":86,"x":350,"z":505},{"scene":"bicycle","trace":"user A","seg":"r1","i":87,"x":380,"z":495},{"scene":"bicycle","trace":"user A","seg":"r1","i":88,"x":420,"z":480},{"scene":"bicycle","trace":"user A","seg":"r1","i":89,"x":460,"z":470},{"scene":"bicycle","trace":"user A","seg":"r1","i":90,"x":480,"z":440},{"scene":"bicycle","trace":"user A","seg":"r1","i":91,"x":470,"z":410},{"scene":"bicycle","trace":"user A","seg":"r1","i":92,"x":455,"z":400},{"scene":"bicycle","trace":"user A","seg":"r1","i":93,"x":470,"z":395},{"scene":"bicycle","trace":"user A","seg":"r1","i":94,"x":490,"z":390},{"scene":"bicycle","trace":"user A","seg":"r1","i":95,"x":510,"z":378},{"scene":"bicycle","trace":"user A","seg":"r1","i":96,"x":530,"z":370},
{"scene":"bicycle","trace":"user A","seg":"r2","i":0,"x":480,"z":655},{"scene":"bicycle","trace":"user A","seg":"r2","i":1,"x":445,"z":680},{"scene":"bicycle","trace":"user A","seg":"r2","i":2,"x":428,"z":708},{"scene":"bicycle","trace":"user A","seg":"r2","i":3,"x":442,"z":738},{"scene":"bicycle","trace":"user A","seg":"r2","i":4,"x":480,"z":732},{"scene":"bicycle","trace":"user A","seg":"r2","i":5,"x":510,"z":745},{"scene":"bicycle","trace":"user A","seg":"r2","i":6,"x":550,"z":740},{"scene":"bicycle","trace":"user A","seg":"r2","i":7,"x":580,"z":756},
{"scene":"bicycle","trace":"user C","seg":"b1","i":0,"x":425,"z":360},{"scene":"bicycle","trace":"user C","seg":"b1","i":1,"x":460,"z":372},{"scene":"bicycle","trace":"user C","seg":"b1","i":2,"x":500,"z":382},{"scene":"bicycle","trace":"user C","seg":"b1","i":3,"x":535,"z":372},{"scene":"bicycle","trace":"user C","seg":"b1","i":4,"x":558,"z":355},{"scene":"bicycle","trace":"user C","seg":"b1","i":5,"x":578,"z":328},{"scene":"bicycle","trace":"user C","seg":"b1","i":6,"x":605,"z":305},{"scene":"bicycle","trace":"user C","seg":"b1","i":7,"x":645,"z":285},{"scene":"bicycle","trace":"user C","seg":"b1","i":8,"x":690,"z":265},{"scene":"bicycle","trace":"user C","seg":"b1","i":9,"x":745,"z":240},{"scene":"bicycle","trace":"user C","seg":"b1","i":10,"x":722,"z":280},{"scene":"bicycle","trace":"user C","seg":"b1","i":11,"x":692,"z":322},{"scene":"bicycle","trace":"user C","seg":"b1","i":12,"x":668,"z":362},{"scene":"bicycle","trace":"user C","seg":"b1","i":13,"x":655,"z":410},{"scene":"bicycle","trace":"user C","seg":"b1","i":14,"x":645,"z":465},{"scene":"bicycle","trace":"user C","seg":"b1","i":15,"x":632,"z":530},{"scene":"bicycle","trace":"user C","seg":"b1","i":16,"x":622,"z":600},{"scene":"bicycle","trace":"user C","seg":"b1","i":17,"x":612,"z":560},{"scene":"bicycle","trace":"user C","seg":"b1","i":18,"x":600,"z":522},{"scene":"bicycle","trace":"user C","seg":"b1","i":19,"x":580,"z":488},{"scene":"bicycle","trace":"user C","seg":"b1","i":20,"x":545,"z":465},{"scene":"bicycle","trace":"user C","seg":"b1","i":21,"x":500,"z":448},{"scene":"bicycle","trace":"user C","seg":"b1","i":22,"x":455,"z":435},{"scene":"bicycle","trace":"user C","seg":"b1","i":23,"x":410,"z":425},{"scene":"bicycle","trace":"user C","seg":"b1","i":24,"x":370,"z":415},{"scene":"bicycle","trace":"user C","seg":"b1","i":25,"x":335,"z":410},{"scene":"bicycle","trace":"user C","seg":"b1","i":26,"x":320,"z":400},{"scene":"bicycle","trace":"user C","seg":"b1","i":27,"x":335,"z":385},{"scene":"bicycle","trace":"user C","seg":"b1","i":28,"x":328,"z":370},{"scene":"bicycle","trace":"user C","seg":"b1","i":29,"x":352,"z":378},{"scene":"bicycle","trace":"user C","seg":"b1","i":30,"x":338,"z":395},{"scene":"bicycle","trace":"user C","seg":"b1","i":31,"x":318,"z":410},{"scene":"bicycle","trace":"user C","seg":"b1","i":32,"x":302,"z":430},{"scene":"bicycle","trace":"user C","seg":"b1","i":33,"x":322,"z":446},{"scene":"bicycle","trace":"user C","seg":"b1","i":34,"x":360,"z":440},{"scene":"bicycle","trace":"user C","seg":"b1","i":35,"x":400,"z":455},{"scene":"bicycle","trace":"user C","seg":"b1","i":36,"x":425,"z":465},{"scene":"bicycle","trace":"user C","seg":"b1","i":37,"x":390,"z":480},{"scene":"bicycle","trace":"user C","seg":"b1","i":38,"x":355,"z":470},{"scene":"bicycle","trace":"user C","seg":"b1","i":39,"x":330,"z":478},{"scene":"bicycle","trace":"user C","seg":"b1","i":40,"x":318,"z":458},{"scene":"bicycle","trace":"user C","seg":"b1","i":41,"x":295,"z":456},{"scene":"bicycle","trace":"user C","seg":"b1","i":42,"x":275,"z":470},{"scene":"bicycle","trace":"user C","seg":"b1","i":43,"x":262,"z":492},{"scene":"bicycle","trace":"user C","seg":"b1","i":44,"x":268,"z":520},{"scene":"bicycle","trace":"user C","seg":"b1","i":45,"x":245,"z":526},{"scene":"bicycle","trace":"user C","seg":"b1","i":46,"x":240,"z":502},{"scene":"bicycle","trace":"user C","seg":"b1","i":47,"x":270,"z":490},{"scene":"bicycle","trace":"user C","seg":"b1","i":48,"x":302,"z":500},{"scene":"bicycle","trace":"user C","seg":"b1","i":49,"x":332,"z":512},{"scene":"bicycle","trace":"user C","seg":"b1","i":50,"x":342,"z":532},{"scene":"bicycle","trace":"user C","seg":"b1","i":51,"x":320,"z":548},{"scene":"bicycle","trace":"user C","seg":"b1","i":52,"x":302,"z":562},{"scene":"bicycle","trace":"user C","seg":"b1","i":53,"x":330,"z":562},{"scene":"bicycle","trace":"user C","seg":"b1","i":54,"x":352,"z":545},{"scene":"bicycle","trace":"user C","seg":"b1","i":55,"x":340,"z":520},{"scene":"bicycle","trace":"user C","seg":"b1","i":56,"x":318,"z":500},{"scene":"bicycle","trace":"user C","seg":"b1","i":57,"x":298,"z":522},{"scene":"bicycle","trace":"user C","seg":"b1","i":58,"x":270,"z":540},{"scene":"bicycle","trace":"user C","seg":"b1","i":59,"x":252,"z":562},{"scene":"bicycle","trace":"user C","seg":"b1","i":60,"x":256,"z":582},{"scene":"bicycle","trace":"user C","seg":"b1","i":61,"x":230,"z":582},{"scene":"bicycle","trace":"user C","seg":"b1","i":62,"x":214,"z":562},{"scene":"bicycle","trace":"user C","seg":"b1","i":63,"x":196,"z":545},{"scene":"bicycle","trace":"user C","seg":"b1","i":64,"x":190,"z":572},{"scene":"bicycle","trace":"user C","seg":"b1","i":65,"x":196,"z":602},{"scene":"bicycle","trace":"user C","seg":"b1","i":66,"x":184,"z":622},{"scene":"bicycle","trace":"user C","seg":"b1","i":67,"x":180,"z":640},{"scene":"bicycle","trace":"user C","seg":"b1","i":68,"x":200,"z":630},{"scene":"bicycle","trace":"user C","seg":"b1","i":69,"x":216,"z":625},{"scene":"bicycle","trace":"user C","seg":"b1","i":70,"x":205,"z":600},{"scene":"bicycle","trace":"user C","seg":"b1","i":71,"x":212,"z":570},{"scene":"bicycle","trace":"user C","seg":"b1","i":72,"x":232,"z":560},{"scene":"bicycle","trace":"user C","seg":"b1","i":73,"x":262,"z":546},{"scene":"bicycle","trace":"user C","seg":"b1","i":74,"x":282,"z":520},{"scene":"bicycle","trace":"user C","seg":"b1","i":75,"x":302,"z":492},{"scene":"bicycle","trace":"user C","seg":"b1","i":76,"x":322,"z":472},{"scene":"bicycle","trace":"user C","seg":"b1","i":77,"x":342,"z":458},{"scene":"bicycle","trace":"user C","seg":"b1","i":78,"x":362,"z":466},{"scene":"bicycle","trace":"user C","seg":"b1","i":79,"x":382,"z":482},{"scene":"bicycle","trace":"user C","seg":"b1","i":80,"x":422,"z":478},{"scene":"bicycle","trace":"user C","seg":"b1","i":81,"x":462,"z":470},{"scene":"bicycle","trace":"user C","seg":"b1","i":82,"x":505,"z":478},{"scene":"bicycle","trace":"user C","seg":"b1","i":83,"x":550,"z":490},{"scene":"bicycle","trace":"user C","seg":"b1","i":84,"x":600,"z":498},{"scene":"bicycle","trace":"user C","seg":"b1","i":85,"x":655,"z":510},{"scene":"bicycle","trace":"user C","seg":"b1","i":86,"x":712,"z":514},
{"scene":"nyc","trace":"user B","seg":"gb1","i":0,"x":80,"z":98},{"scene":"nyc","trace":"user B","seg":"gb1","i":1,"x":62,"z":120},{"scene":"nyc","trace":"user B","seg":"gb1","i":2,"x":52,"z":150},{"scene":"nyc","trace":"user B","seg":"gb1","i":3,"x":55,"z":190},{"scene":"nyc","trace":"user B","seg":"gb1","i":4,"x":72,"z":215},{"scene":"nyc","trace":"user B","seg":"gb1","i":5,"x":78,"z":245},{"scene":"nyc","trace":"user B","seg":"gb1","i":6,"x":130,"z":255},{"scene":"nyc","trace":"user B","seg":"gb1","i":7,"x":180,"z":246},{"scene":"nyc","trace":"user B","seg":"gb1","i":8,"x":200,"z":225},{"scene":"nyc","trace":"user B","seg":"gb1","i":9,"x":212,"z":175},{"scene":"nyc","trace":"user B","seg":"gb1","i":10,"x":219,"z":129},{"scene":"nyc","trace":"user B","seg":"gb1","i":11,"x":231,"z":99},{"scene":"nyc","trace":"user B","seg":"gb1","i":12,"x":240,"z":70},{"scene":"nyc","trace":"user B","seg":"gb1","i":13,"x":205,"z":56},{"scene":"nyc","trace":"user B","seg":"gb1","i":14,"x":170,"z":70},{"scene":"nyc","trace":"user B","seg":"gb1","i":15,"x":140,"z":70},{"scene":"nyc","trace":"user B","seg":"gb1","i":16,"x":100,"z":78},{"scene":"nyc","trace":"user B","seg":"gb1","i":17,"x":72,"z":100},{"scene":"nyc","trace":"user B","seg":"gb1","i":18,"x":112,"z":72},
{"scene":"nyc","trace":"user B","seg":"gb2","i":0,"x":219,"z":129},{"scene":"nyc","trace":"user B","seg":"gb2","i":1,"x":260,"z":127},{"scene":"nyc","trace":"user B","seg":"gb2","i":2,"x":300,"z":126},{"scene":"nyc","trace":"user B","seg":"gb2","i":3,"x":351,"z":120},{"scene":"nyc","trace":"user B","seg":"gb2","i":4,"x":420,"z":105},{"scene":"nyc","trace":"user B","seg":"gb2","i":5,"x":461,"z":111},{"scene":"nyc","trace":"user B","seg":"gb2","i":6,"x":510,"z":129},{"scene":"nyc","trace":"user B","seg":"gb2","i":7,"x":540,"z":159},{"scene":"nyc","trace":"user B","seg":"gb2","i":8,"x":560,"z":200},{"scene":"nyc","trace":"user B","seg":"gb2","i":9,"x":575,"z":245},{"scene":"nyc","trace":"user B","seg":"gb2","i":10,"x":570,"z":290},{"scene":"nyc","trace":"user B","seg":"gb2","i":11,"x":555,"z":320},{"scene":"nyc","trace":"user B","seg":"gb2","i":12,"x":531,"z":330},{"scene":"nyc","trace":"user B","seg":"gb2","i":13,"x":489,"z":351},{"scene":"nyc","trace":"user B","seg":"gb2","i":14,"x":459,"z":369},{"scene":"nyc","trace":"user B","seg":"gb2","i":15,"x":450,"z":411},{"scene":"nyc","trace":"user B","seg":"gb2","i":16,"x":459,"z":429},{"scene":"nyc","trace":"user B","seg":"gb2","i":17,"x":489,"z":411},{"scene":"nyc","trace":"user B","seg":"gb2","i":18,"x":531,"z":369},{"scene":"nyc","trace":"user B","seg":"gb2","i":19,"x":570,"z":335},{"scene":"nyc","trace":"user B","seg":"gb2","i":20,"x":620,"z":300},{"scene":"nyc","trace":"user B","seg":"gb2","i":21,"x":650,"z":240},{"scene":"nyc","trace":"user B","seg":"gb2","i":22,"x":655,"z":180},{"scene":"nyc","trace":"user B","seg":"gb2","i":23,"x":660,"z":120},{"scene":"nyc","trace":"user B","seg":"gb2","i":24,"x":683,"z":100},{"scene":"nyc","trace":"user B","seg":"gb2","i":25,"x":668,"z":62},{"scene":"nyc","trace":"user B","seg":"gb2","i":26,"x":690,"z":92},{"scene":"nyc","trace":"user B","seg":"gb2","i":27,"x":705,"z":140},{"scene":"nyc","trace":"user B","seg":"gb2","i":28,"x":745,"z":170},{"scene":"nyc","trace":"user B","seg":"gb2","i":29,"x":800,"z":184},{"scene":"nyc","trace":"user B","seg":"gb2","i":30,"x":858,"z":198},{"scene":"nyc","trace":"user B","seg":"gb2","i":31,"x":890,"z":228},{"scene":"nyc","trace":"user B","seg":"gb2","i":32,"x":912,"z":272},
{"scene":"nyc","trace":"user B","seg":"gb3","i":0,"x":461,"z":201},{"scene":"nyc","trace":"user B","seg":"gb3","i":1,"x":479,"z":261},{"scene":"nyc","trace":"user B","seg":"gb3","i":2,"x":500,"z":225},{"scene":"nyc","trace":"user B","seg":"gb3","i":3,"x":510,"z":210},{"scene":"nyc","trace":"user B","seg":"gb3","i":4,"x":521,"z":261},{"scene":"nyc","trace":"user B","seg":"gb3","i":5,"x":539,"z":180},{"scene":"nyc","trace":"user B","seg":"gb3","i":6,"x":565,"z":170},{"scene":"nyc","trace":"user B","seg":"gb3","i":7,"x":580,"z":205},
{"scene":"nyc","trace":"user B","seg":"gb4","i":0,"x":200,"z":230},{"scene":"nyc","trace":"user B","seg":"gb4","i":1,"x":186,"z":290},{"scene":"nyc","trace":"user B","seg":"gb4","i":2,"x":176,"z":330},{"scene":"nyc","trace":"user B","seg":"gb4","i":3,"x":188,"z":360},{"scene":"nyc","trace":"user B","seg":"gb4","i":4,"x":165,"z":400},{"scene":"nyc","trace":"user B","seg":"gb4","i":5,"x":130,"z":435},{"scene":"nyc","trace":"user B","seg":"gb4","i":6,"x":210,"z":441},{"scene":"nyc","trace":"user B","seg":"gb4","i":7,"x":270,"z":459},{"scene":"nyc","trace":"user B","seg":"gb4","i":8,"x":321,"z":489},{"scene":"nyc","trace":"user B","seg":"gb4","i":9,"x":360,"z":531},{"scene":"nyc","trace":"user B","seg":"gb4","i":10,"x":381,"z":570},{"scene":"nyc","trace":"user B","seg":"gb4","i":11,"x":400,"z":620},{"scene":"nyc","trace":"user B","seg":"gb4","i":12,"x":450,"z":625},{"scene":"nyc","trace":"user B","seg":"gb4","i":13,"x":530,"z":620},{"scene":"nyc","trace":"user B","seg":"gb4","i":14,"x":600,"z":630},{"scene":"nyc","trace":"user B","seg":"gb4","i":15,"x":610,"z":650},{"scene":"nyc","trace":"user B","seg":"gb4","i":16,"x":600,"z":670},{"scene":"nyc","trace":"user B","seg":"gb4","i":17,"x":615,"z":700},{"scene":"nyc","trace":"user B","seg":"gb4","i":18,"x":595,"z":690},{"scene":"nyc","trace":"user B","seg":"gb4","i":19,"x":560,"z":650},{"scene":"nyc","trace":"user B","seg":"gb4","i":20,"x":545,"z":720},{"scene":"nyc","trace":"user B","seg":"gb4","i":21,"x":520,"z":790},{"scene":"nyc","trace":"user B","seg":"gb4","i":22,"x":505,"z":825},{"scene":"nyc","trace":"user B","seg":"gb4","i":23,"x":490,"z":830},{"scene":"nyc","trace":"user B","seg":"gb4","i":24,"x":520,"z":828},
{"scene":"nyc","trace":"user B","seg":"gb5","i":0,"x":430,"z":780},{"scene":"nyc","trace":"user B","seg":"gb5","i":1,"x":410,"z":750},{"scene":"nyc","trace":"user B","seg":"gb5","i":2,"x":370,"z":740},{"scene":"nyc","trace":"user B","seg":"gb5","i":3,"x":330,"z":750},{"scene":"nyc","trace":"user B","seg":"gb5","i":4,"x":300,"z":750},{"scene":"nyc","trace":"user B","seg":"gb5","i":5,"x":270,"z":740},{"scene":"nyc","trace":"user B","seg":"gb5","i":6,"x":255,"z":770},{"scene":"nyc","trace":"user B","seg":"gb5","i":7,"x":270,"z":720},{"scene":"nyc","trace":"user B","seg":"gb5","i":8,"x":310,"z":700},{"scene":"nyc","trace":"user B","seg":"gb5","i":9,"x":350,"z":680},{"scene":"nyc","trace":"user B","seg":"gb5","i":10,"x":390,"z":670},{"scene":"nyc","trace":"user B","seg":"gb5","i":11,"x":430,"z":665},{"scene":"nyc","trace":"user B","seg":"gb5","i":12,"x":470,"z":660},{"scene":"nyc","trace":"user B","seg":"gb5","i":13,"x":510,"z":650},{"scene":"nyc","trace":"user B","seg":"gb5","i":14,"x":530,"z":630},{"scene":"nyc","trace":"user B","seg":"gb5","i":15,"x":560,"z":625},
{"scene":"nyc","trace":"user B","seg":"gb6","i":0,"x":880,"z":212},{"scene":"nyc","trace":"user B","seg":"gb6","i":1,"x":845,"z":215},{"scene":"nyc","trace":"user B","seg":"gb6","i":2,"x":800,"z":238},{"scene":"nyc","trace":"user B","seg":"gb6","i":3,"x":770,"z":265},{"scene":"nyc","trace":"user B","seg":"gb6","i":4,"x":752,"z":300},{"scene":"nyc","trace":"user B","seg":"gb6","i":5,"x":745,"z":350},{"scene":"nyc","trace":"user B","seg":"gb6","i":6,"x":745,"z":410},{"scene":"nyc","trace":"user B","seg":"gb6","i":7,"x":756,"z":470},{"scene":"nyc","trace":"user B","seg":"gb6","i":8,"x":776,"z":520},{"scene":"nyc","trace":"user B","seg":"gb6","i":9,"x":762,"z":570},{"scene":"nyc","trace":"user B","seg":"gb6","i":10,"x":753,"z":620},{"scene":"nyc","trace":"user B","seg":"gb6","i":11,"x":750,"z":651},{"scene":"nyc","trace":"user B","seg":"gb6","i":12,"x":705,"z":665},{"scene":"nyc","trace":"user B","seg":"gb6","i":13,"x":669,"z":666},{"scene":"nyc","trace":"user B","seg":"gb6","i":14,"x":630,"z":681},{"scene":"nyc","trace":"user B","seg":"gb6","i":15,"x":620,"z":740},{"scene":"nyc","trace":"user B","seg":"gb6","i":16,"x":621,"z":801},{"scene":"nyc","trace":"user B","seg":"gb6","i":17,"x":580,"z":806},{"scene":"nyc","trace":"user B","seg":"gb6","i":18,"x":550,"z":815},{"scene":"nyc","trace":"user B","seg":"gb6","i":19,"x":510,"z":831},
{"scene":"nyc","trace":"user B","seg":"gb7","i":0,"x":745,"z":380},{"scene":"nyc","trace":"user B","seg":"gb7","i":1,"x":735,"z":420},{"scene":"nyc","trace":"user B","seg":"gb7","i":2,"x":710,"z":450},{"scene":"nyc","trace":"user B","seg":"gb7","i":3,"x":690,"z":490},{"scene":"nyc","trace":"user B","seg":"gb7","i":4,"x":660,"z":550},{"scene":"nyc","trace":"user B","seg":"gb7","i":5,"x":630,"z":620},{"scene":"nyc","trace":"user B","seg":"gb7","i":6,"x":610,"z":660},{"scene":"nyc","trace":"user B","seg":"gb7","i":7,"x":600,"z":680},{"scene":"nyc","trace":"user B","seg":"gb7","i":8,"x":615,"z":700},
{"scene":"nyc","trace":"user A","seg":"rb1","i":0,"x":858,"z":0},{"scene":"nyc","trace":"user A","seg":"rb1","i":1,"x":835,"z":30},{"scene":"nyc","trace":"user A","seg":"rb1","i":2,"x":812,"z":70},{"scene":"nyc","trace":"user A","seg":"rb1","i":3,"x":805,"z":110},{"scene":"nyc","trace":"user A","seg":"rb1","i":4,"x":812,"z":150},{"scene":"nyc","trace":"user A","seg":"rb1","i":5,"x":828,"z":180},{"scene":"nyc","trace":"user A","seg":"rb1","i":6,"x":838,"z":220},{"scene":"nyc","trace":"user A","seg":"rb1","i":7,"x":848,"z":255},{"scene":"nyc","trace":"user A","seg":"rb1","i":8,"x":843,"z":300},{"scene":"nyc","trace":"user A","seg":"rb1","i":9,"x":832,"z":350},{"scene":"nyc","trace":"user A","seg":"rb1","i":10,"x":828,"z":400},{"scene":"nyc","trace":"user A","seg":"rb1","i":11,"x":808,"z":432},{"scene":"nyc","trace":"user A","seg":"rb1","i":12,"x":775,"z":455},{"scene":"nyc","trace":"user A","seg":"rb1","i":13,"x":740,"z":490},{"scene":"nyc","trace":"user A","seg":"rb1","i":14,"x":705,"z":530},{"scene":"nyc","trace":"user A","seg":"rb1","i":15,"x":680,"z":568},{"scene":"nyc","trace":"user A","seg":"rb1","i":16,"x":650,"z":592},{"scene":"nyc","trace":"user A","seg":"rb1","i":17,"x":615,"z":602},{"scene":"nyc","trace":"user A","seg":"rb1","i":18,"x":580,"z":605},{"scene":"nyc","trace":"user A","seg":"rb1","i":19,"x":540,"z":608},{"scene":"nyc","trace":"user A","seg":"rb1","i":20,"x":510,"z":620},{"scene":"nyc","trace":"user A","seg":"rb1","i":21,"x":500,"z":640},{"scene":"nyc","trace":"user A","seg":"rb1","i":22,"x":520,"z":660},{"scene":"nyc","trace":"user A","seg":"rb1","i":23,"x":545,"z":640},{"scene":"nyc","trace":"user A","seg":"rb1","i":24,"x":570,"z":625},{"scene":"nyc","trace":"user A","seg":"rb1","i":25,"x":600,"z":620},{"scene":"nyc","trace":"user A","seg":"rb1","i":26,"x":640,"z":625},{"scene":"nyc","trace":"user A","seg":"rb1","i":27,"x":700,"z":650},{"scene":"nyc","trace":"user A","seg":"rb1","i":28,"x":750,"z":668},
{"scene":"nyc","trace":"user A","seg":"rb2","i":0,"x":825,"z":0},{"scene":"nyc","trace":"user A","seg":"rb2","i":1,"x":815,"z":25},{"scene":"nyc","trace":"user A","seg":"rb2","i":2,"x":798,"z":55},{"scene":"nyc","trace":"user A","seg":"rb2","i":3,"x":790,"z":95},{"scene":"nyc","trace":"user A","seg":"rb2","i":4,"x":798,"z":140},{"scene":"nyc","trace":"user A","seg":"rb2","i":5,"x":802,"z":190},{"scene":"nyc","trace":"user A","seg":"rb2","i":6,"x":830,"z":230},{"scene":"nyc","trace":"user A","seg":"rb2","i":7,"x":850,"z":262},
{"scene":"nyc","trace":"user A","seg":"rb3","i":0,"x":145,"z":490},{"scene":"nyc","trace":"user A","seg":"rb3","i":1,"x":110,"z":540},{"scene":"nyc","trace":"user A","seg":"rb3","i":2,"x":150,"z":555},{"scene":"nyc","trace":"user A","seg":"rb3","i":3,"x":200,"z":545},{"scene":"nyc","trace":"user A","seg":"rb3","i":4,"x":255,"z":550},{"scene":"nyc","trace":"user A","seg":"rb3","i":5,"x":310,"z":572},{"scene":"nyc","trace":"user A","seg":"rb3","i":6,"x":355,"z":585},{"scene":"nyc","trace":"user A","seg":"rb3","i":7,"x":405,"z":592},{"scene":"nyc","trace":"user A","seg":"rb3","i":8,"x":450,"z":600},{"scene":"nyc","trace":"user A","seg":"rb3","i":9,"x":490,"z":610},{"scene":"nyc","trace":"user A","seg":"rb3","i":10,"x":520,"z":640},
{"scene":"nyc","trace":"user A","seg":"rb4","i":0,"x":145,"z":490},{"scene":"nyc","trace":"user A","seg":"rb4","i":1,"x":138,"z":530},{"scene":"nyc","trace":"user A","seg":"rb4","i":2,"x":175,"z":575},{"scene":"nyc","trace":"user A","seg":"rb4","i":3,"x":225,"z":615},{"scene":"nyc","trace":"user A","seg":"rb4","i":4,"x":258,"z":655},{"scene":"nyc","trace":"user A","seg":"rb4","i":5,"x":265,"z":700},{"scene":"nyc","trace":"user A","seg":"rb4","i":6,"x":300,"z":730},{"scene":"nyc","trace":"user A","seg":"rb4","i":7,"x":350,"z":762},{"scene":"nyc","trace":"user A","seg":"rb4","i":8,"x":400,"z":800},{"scene":"nyc","trace":"user A","seg":"rb4","i":9,"x":450,"z":850},{"scene":"nyc","trace":"user A","seg":"rb4","i":10,"x":490,"z":885},
{"scene":"nyc","trace":"user A","seg":"rb5","i":0,"x":390,"z":338},{"scene":"nyc","trace":"user A","seg":"rb5","i":1,"x":440,"z":340},{"scene":"nyc","trace":"user A","seg":"rb5","i":2,"x":485,"z":345},{"scene":"nyc","trace":"user A","seg":"rb5","i":3,"x":460,"z":370},{"scene":"nyc","trace":"user A","seg":"rb5","i":4,"x":430,"z":380},{"scene":"nyc","trace":"user A","seg":"rb5","i":5,"x":470,"z":385},{"scene":"nyc","trace":"user A","seg":"rb5","i":6,"x":520,"z":385},{"scene":"nyc","trace":"user A","seg":"rb5","i":7,"x":490,"z":378},{"scene":"nyc","trace":"user A","seg":"rb5","i":8,"x":485,"z":420},{"scene":"nyc","trace":"user A","seg":"rb5","i":9,"x":470,"z":440},{"scene":"nyc","trace":"user A","seg":"rb5","i":10,"x":490,"z":470},{"scene":"nyc","trace":"user A","seg":"rb5","i":11,"x":505,"z":510},{"scene":"nyc","trace":"user A","seg":"rb5","i":12,"x":520,"z":560},{"scene":"nyc","trace":"user A","seg":"rb5","i":13,"x":535,"z":610},{"scene":"nyc","trace":"user A","seg":"rb5","i":14,"x":545,"z":670},{"scene":"nyc","trace":"user A","seg":"rb5","i":15,"x":540,"z":740},{"scene":"nyc","trace":"user A","seg":"rb5","i":16,"x":548,"z":800},{"scene":"nyc","trace":"user A","seg":"rb5","i":17,"x":560,"z":855},{"scene":"nyc","trace":"user A","seg":"rb5","i":18,"x":570,"z":800},{"scene":"nyc","trace":"user A","seg":"rb5","i":19,"x":560,"z":740},{"scene":"nyc","trace":"user A","seg":"rb5","i":20,"x":555,"z":690},{"scene":"nyc","trace":"user A","seg":"rb5","i":21,"x":575,"z":640},{"scene":"nyc","trace":"user A","seg":"rb5","i":22,"x":590,"z":700},{"scene":"nyc","trace":"user A","seg":"rb5","i":23,"x":600,"z":760},{"scene":"nyc","trace":"user A","seg":"rb5","i":24,"x":640,"z":778},{"scene":"nyc","trace":"user A","seg":"rb5","i":25,"x":700,"z":780},{"scene":"nyc","trace":"user A","seg":"rb5","i":26,"x":750,"z":795},{"scene":"nyc","trace":"user A","seg":"rb5","i":27,"x":775,"z":830},{"scene":"nyc","trace":"user A","seg":"rb5","i":28,"x":780,"z":885},
{"scene":"nyc","trace":"user A","seg":"rb6","i":0,"x":730,"z":885},{"scene":"nyc","trace":"user A","seg":"rb6","i":1,"x":760,"z":878},{"scene":"nyc","trace":"user A","seg":"rb6","i":2,"x":775,"z":885},
{"scene":"nyc","trace":"user A","seg":"rb7","i":0,"x":565,"z":575},{"scene":"nyc","trace":"user A","seg":"rb7","i":1,"x":600,"z":572},{"scene":"nyc","trace":"user A","seg":"rb7","i":2,"x":615,"z":590},{"scene":"nyc","trace":"user A","seg":"rb7","i":3,"x":620,"z":605},
{"scene":"nyc","trace":"user C","seg":"bb1","i":0,"x":165,"z":58},{"scene":"nyc","trace":"user C","seg":"bb1","i":1,"x":200,"z":85},{"scene":"nyc","trace":"user C","seg":"bb1","i":2,"x":240,"z":110},{"scene":"nyc","trace":"user C","seg":"bb1","i":3,"x":275,"z":128},{"scene":"nyc","trace":"user C","seg":"bb1","i":4,"x":312,"z":135},{"scene":"nyc","trace":"user C","seg":"bb1","i":5,"x":335,"z":155},{"scene":"nyc","trace":"user C","seg":"bb1","i":6,"x":352,"z":185},{"scene":"nyc","trace":"user C","seg":"bb1","i":7,"x":380,"z":208},{"scene":"nyc","trace":"user C","seg":"bb1","i":8,"x":420,"z":225},{"scene":"nyc","trace":"user C","seg":"bb1","i":9,"x":480,"z":240},{"scene":"nyc","trace":"user C","seg":"bb1","i":10,"x":540,"z":258},{"scene":"nyc","trace":"user C","seg":"bb1","i":11,"x":600,"z":275},{"scene":"nyc","trace":"user C","seg":"bb1","i":12,"x":650,"z":268},{"scene":"nyc","trace":"user C","seg":"bb1","i":13,"x":700,"z":255},{"scene":"nyc","trace":"user C","seg":"bb1","i":14,"x":740,"z":252},{"scene":"nyc","trace":"user C","seg":"bb1","i":15,"x":780,"z":262},{"scene":"nyc","trace":"user C","seg":"bb1","i":16,"x":800,"z":290},{"scene":"nyc","trace":"user C","seg":"bb1","i":17,"x":805,"z":302},{"scene":"nyc","trace":"user C","seg":"bb1","i":18,"x":788,"z":292},{"scene":"nyc","trace":"user C","seg":"bb1","i":19,"x":765,"z":262},{"scene":"nyc","trace":"user C","seg":"bb1","i":20,"x":725,"z":258},{"scene":"nyc","trace":"user C","seg":"bb1","i":21,"x":680,"z":280},{"scene":"nyc","trace":"user C","seg":"bb1","i":22,"x":640,"z":320},{"scene":"nyc","trace":"user C","seg":"bb1","i":23,"x":600,"z":362},{"scene":"nyc","trace":"user C","seg":"bb1","i":24,"x":560,"z":402},{"scene":"nyc","trace":"user C","seg":"bb1","i":25,"x":520,"z":442},{"scene":"nyc","trace":"user C","seg":"bb1","i":26,"x":492,"z":490},{"scene":"nyc","trace":"user C","seg":"bb1","i":27,"x":472,"z":540},{"scene":"nyc","trace":"user C","seg":"bb1","i":28,"x":460,"z":600},{"scene":"nyc","trace":"user C","seg":"bb1","i":29,"x":452,"z":650},{"scene":"nyc","trace":"user C","seg":"bb1","i":30,"x":445,"z":700},{"scene":"nyc","trace":"user C","seg":"bb1","i":31,"x":445,"z":770},
{"scene":"nyc","trace":"user C","seg":"bb2","i":0,"x":315,"z":105},{"scene":"nyc","trace":"user C","seg":"bb2","i":1,"x":322,"z":150},{"scene":"nyc","trace":"user C","seg":"bb2","i":2,"x":338,"z":190},{"scene":"nyc","trace":"user C","seg":"bb2","i":3,"x":362,"z":222},{"scene":"nyc","trace":"user C","seg":"bb2","i":4,"x":382,"z":252},{"scene":"nyc","trace":"user C","seg":"bb2","i":5,"x":398,"z":290},{"scene":"nyc","trace":"user C","seg":"bb2","i":6,"x":408,"z":322},{"scene":"nyc","trace":"user C","seg":"bb2","i":7,"x":422,"z":352},{"scene":"nyc","trace":"user C","seg":"bb2","i":8,"x":440,"z":400},{"scene":"nyc","trace":"user C","seg":"bb2","i":9,"x":458,"z":470},{"scene":"nyc","trace":"user C","seg":"bb2","i":10,"x":468,"z":530},{"scene":"nyc","trace":"user C","seg":"bb2","i":11,"x":460,"z":580},{"scene":"nyc","trace":"user C","seg":"bb2","i":12,"x":442,"z":630},{"scene":"nyc","trace":"user C","seg":"bb2","i":13,"x":432,"z":700},{"scene":"nyc","trace":"user C","seg":"bb2","i":14,"x":422,"z":760},{"scene":"nyc","trace":"user C","seg":"bb2","i":15,"x":410,"z":800},{"scene":"nyc","trace":"user C","seg":"bb2","i":16,"x":385,"z":825},{"scene":"nyc","trace":"user C","seg":"bb2","i":17,"x":375,"z":820},{"scene":"nyc","trace":"user C","seg":"bb2","i":18,"x":400,"z":815},{"scene":"nyc","trace":"user C","seg":"bb2","i":19,"x":425,"z":800},{"scene":"nyc","trace":"user C","seg":"bb2","i":20,"x":435,"z":785},{"scene":"nyc","trace":"user C","seg":"bb2","i":21,"x":420,"z":780},
{"scene":"nyc","trace":"user C","seg":"bb3","i":0,"x":345,"z":180},{"scene":"nyc","trace":"user C","seg":"bb3","i":1,"x":350,"z":230},{"scene":"nyc","trace":"user C","seg":"bb3","i":2,"x":375,"z":250},{"scene":"nyc","trace":"user C","seg":"bb3","i":3,"x":395,"z":200},{"scene":"nyc","trace":"user C","seg":"bb3","i":4,"x":410,"z":185},{"scene":"nyc","trace":"user C","seg":"bb3","i":5,"x":408,"z":240},{"scene":"nyc","trace":"user C","seg":"bb3","i":6,"x":400,"z":280},{"scene":"nyc","trace":"user C","seg":"bb3","i":7,"x":390,"z":310},
{"scene":"nyc","trace":"user C","seg":"bb4","i":0,"x":275,"z":320},{"scene":"nyc","trace":"user C","seg":"bb4","i":1,"x":270,"z":280},{"scene":"nyc","trace":"user C","seg":"bb4","i":2,"x":266,"z":245},{"scene":"nyc","trace":"user C","seg":"bb4","i":3,"x":280,"z":270},{"scene":"nyc","trace":"user C","seg":"bb4","i":4,"x":330,"z":265},{"scene":"nyc","trace":"user C","seg":"bb4","i":5,"x":385,"z":272},{"scene":"nyc","trace":"user C","seg":"bb4","i":6,"x":405,"z":245},
{"scene":"nyc","trace":"user C","seg":"bb5","i":0,"x":305,"z":300},{"scene":"nyc","trace":"user C","seg":"bb5","i":1,"x":340,"z":340},{"scene":"nyc","trace":"user C","seg":"bb5","i":2,"x":368,"z":372},{"scene":"nyc","trace":"user C","seg":"bb5","i":3,"x":380,"z":420},{"scene":"nyc","trace":"user C","seg":"bb5","i":4,"x":384,"z":500},{"scene":"nyc","trace":"user C","seg":"bb5","i":5,"x":390,"z":560},{"scene":"nyc","trace":"user C","seg":"bb5","i":6,"x":398,"z":620},{"scene":"nyc","trace":"user C","seg":"bb5","i":7,"x":395,"z":700},{"scene":"nyc","trace":"user C","seg":"bb5","i":8,"x":400,"z":760},{"scene":"nyc","trace":"user C","seg":"bb5","i":9,"x":395,"z":800},
{"scene":"nyc","trace":"user C","seg":"bb6","i":0,"x":345,"z":505},{"scene":"nyc","trace":"user C","seg":"bb6","i":1,"x":375,"z":512},{"scene":"nyc","trace":"user C","seg":"bb6","i":2,"x":405,"z":510},{"scene":"nyc","trace":"user C","seg":"bb6","i":3,"x":415,"z":495},{"scene":"nyc","trace":"user C","seg":"bb6","i":4,"x":400,"z":490},{"scene":"nyc","trace":"user C","seg":"bb6","i":5,"x":390,"z":510},
{"scene":"nyc","trace":"user C","seg":"bb7","i":0,"x":485,"z":342},{"scene":"nyc","trace":"user C","seg":"bb7","i":1,"x":440,"z":345},{"scene":"nyc","trace":"user C","seg":"bb7","i":2,"x":400,"z":335},{"scene":"nyc","trace":"user C","seg":"bb7","i":3,"x":372,"z":312},{"scene":"nyc","trace":"user C","seg":"bb7","i":4,"x":345,"z":270},{"scene":"nyc","trace":"user C","seg":"bb7","i":5,"x":330,"z":240}
]
},
"vconcat": [
 {"hconcat": [
  {"width": 296, "height": 295, "view": {"stroke": "#000", "strokeWidth": 1.3},
   "title": {"text": "(a) bicycle XZ-plane", "offset": 24},
   "data": {"name": "xz"},
   "transform": [{"filter": "datum.scene == 'bicycle'"}],
   "mark": {"type": "line", "interpolate": "catmull-rom", "strokeWidth": 2, "clip": true},
   "encoding": {
    "x": {"field": "x", "type": "quantitative", "scale": {"domain": [20, 905], "nice": false, "zero": false}, "axis": null},
    "y": {"field": "z", "type": "quantitative", "scale": {"domain": [0, 885], "reverse": true, "nice": false, "zero": false}, "axis": null},
    "color": {"field": "trace", "type": "nominal", "scale": {"domain": ["user A", "user B", "user C"], "range": ["#DA4453", "#8CC152", "#4A89DC"]}, "legend": null},
    "detail": {"field": "seg"},
    "order": {"field": "i", "type": "quantitative"}
   }},
  {"width": 296, "height": 295, "view": {"stroke": "#000", "strokeWidth": 1.3},
   "title": {"text": "(b) nyc XZ-plane", "offset": 24},
   "data": {"name": "xz"},
   "transform": [{"filter": "datum.scene == 'nyc'"}],
   "mark": {"type": "line", "interpolate": "catmull-rom", "strokeWidth": 2, "clip": true},
   "encoding": {
    "x": {"field": "x", "type": "quantitative", "scale": {"domain": [43, 928], "nice": false, "zero": false}, "axis": null},
    "y": {"field": "z", "type": "quantitative", "scale": {"domain": [0, 885], "reverse": true, "nice": false, "zero": false}, "axis": null},
    "color": {"field": "trace", "type": "nominal", "scale": {"domain": ["user A", "user B", "user C"], "range": ["#DA4453", "#8CC152", "#4A89DC"]}, "legend": null},
    "detail": {"field": "seg"},
    "order": {"field": "i", "type": "quantitative"}
   }}
 ], "spacing": 42},
 {"hconcat": [
  {"width": 292, "height": 118, "view": {"stroke": null},
   "title": {"text": "(c) bicycle Y-axis", "dx": 3},
   "data": {"name": "ty"},
   "transform": [{"filter": "datum.scene == 'bicycle'"}],
   "mark": {"type": "line", "interpolate": "monotone", "strokeWidth": 1.3, "clip": true},
   "encoding": {
    "x": {"field": "t", "type": "quantitative", "title": "Time (s)", "scale": {"domain": [0, 60], "range": [34, 292], "nice": false, "zero": false}, "axis": {"values": [0, 15, 30, 45, 60], "grid": true, "gridColor": "#000", "gridWidth": 1, "gridOpacity": {"condition": {"test": "datum.value == 60", "value": 1}, "value": 0}}},
    "y": {"field": "y", "type": "quantitative", "title": "Y position (m)", "scale": {"domain": [1.0, 1.8], "nice": false, "zero": false}, "axis": {"values": [1.0, 1.2, 1.4, 1.6, 1.8], "format": ".1f", "offset": -34, "grid": true, "gridColor": "#000", "gridWidth": 1, "gridOpacity": {"condition": {"test": "datum.value == 1.8", "value": 1}, "value": 0}}},
    "color": {"field": "trace", "type": "nominal", "scale": {"domain": ["user A", "user B", "user C"], "range": ["#DA4453", "#8CC152", "#4A89DC"]}, "legend": null}
   }},
  {"width": 292, "height": 118, "view": {"stroke": null},
   "title": {"text": "(d) nyc Y-axis", "dx": 8},
   "data": {"name": "ty"},
   "transform": [{"filter": "datum.scene == 'nyc'"}],
   "mark": {"type": "line", "interpolate": "monotone", "strokeWidth": 1.3, "clip": true},
   "encoding": {
    "x": {"field": "t", "type": "quantitative", "title": "Time (s)", "scale": {"domain": [0, 60], "range": [34, 292], "nice": false, "zero": false}, "axis": {"values": [0, 15, 30, 45, 60], "grid": true, "gridColor": "#000", "gridWidth": 1, "gridOpacity": {"condition": {"test": "datum.value == 60", "value": 1}, "value": 0}}},
    "y": {"field": "y", "type": "quantitative", "title": "Y position (m)", "scale": {"domain": [1.0, 1.8], "nice": false, "zero": false}, "axis": {"values": [1.0, 1.2, 1.4, 1.6, 1.8], "format": ".1f", "offset": -34, "grid": true, "gridColor": "#000", "gridWidth": 1, "gridOpacity": {"condition": {"test": "datum.value == 1.8", "value": 1}, "value": 0}}},
    "color": {"field": "trace", "type": "nominal", "scale": {"domain": ["user A", "user B", "user C"], "range": ["#DA4453", "#8CC152", "#4A89DC"]}, "legend": null}
   }}
 ], "spacing": 36}
]
}
